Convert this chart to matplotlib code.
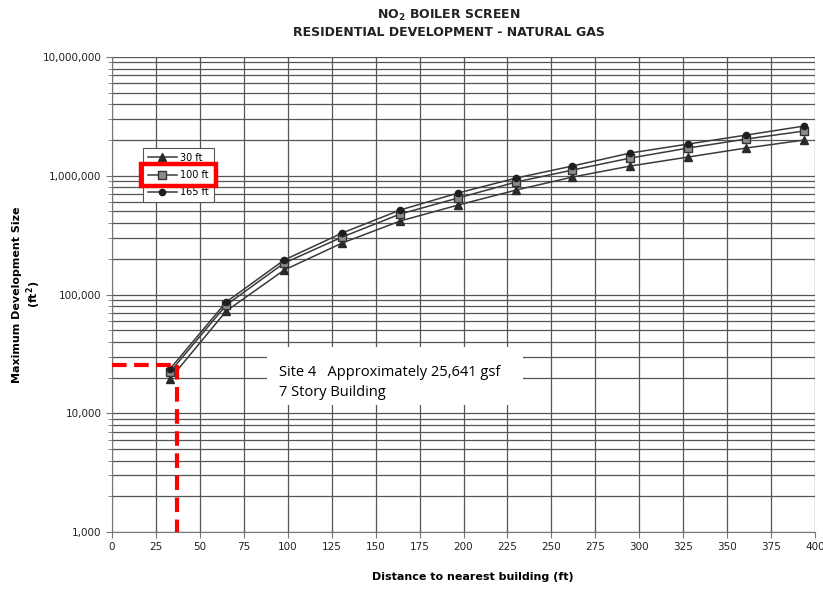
import matplotlib.pyplot as plt
import matplotlib.ticker as mticker
from matplotlib.patches import Rectangle
import numpy as np

#----------data----------
distance = [33, 65, 98, 131, 164, 197, 230, 262, 295, 328, 361, 394]
size_30ft = [19400, 72600, 160700, 271500, 416000, 567000, 758000, 975000,
             1208000, 1439000, 1713000, 2000000]
size_100ft = [22230, 81600, 184000, 304800, 476000, 650000, 886000, 1117000,
              1410000, 1713000, 2040000, 2382000]
size_165ft = [23600, 86500, 195300, 329600, 515000, 716000, 957000, 1208000,
              1555000, 1851000, 2203000, 2624000]
site_distance = 37
site_size = 25641

#----------figure----------
fig = plt.figure(figsize=(8.23, 5.92), dpi=100)
ax = fig.add_axes([112/823, 1-532/592, 703/823, 475/592])

line_col = '#3a3a3a'
ax.plot(distance, size_30ft, color=line_col, lw=1.1, marker='^', ms=6,
        mfc='#2a2a2a', mec='#2a2a2a', label='30 ft', zorder=5)
ax.plot(distance, size_100ft, color=line_col, lw=1.1, marker='s', ms=5.5,
        mfc='#8c8c8c', mec='#333333', label='100 ft', zorder=5)
ax.plot(distance, size_165ft, color=line_col, lw=1.1, marker='o', ms=4.5,
        mfc='#1e1e1e', mec='#1e1e1e', label='165 ft', zorder=5)

# red dashed site marker
ax.plot([0, site_distance], [site_size, site_size], color='#ff0000', lw=3.0,
        ls=(0, (3.5, 1.8)), zorder=6, clip_on=False)
ax.plot([site_distance, site_distance], [site_size, 1000], color='#ff0000',
        lw=3.0, ls=(0, (3.5, 1.8)), zorder=6, clip_on=False)

ax.set_yscale('log')
ax.set_ylim(1000, 1e7)
ax.set_xlim(0, 400)
ax.set_xticks(np.arange(0, 401, 25))
ax.yaxis.set_major_formatter(mticker.FuncFormatter(lambda v, p: '{:,.0f}'.format(v)))
ax.yaxis.set_minor_locator(mticker.LogLocator(base=10, subs=np.arange(2, 10)))
ax.yaxis.set_minor_formatter(mticker.NullFormatter())
ax.grid(True, which='both', axis='y', color='#555555', lw=0.9)
ax.grid(True, which='major', axis='x', color='#555555', lw=0.9)
ax.tick_params(axis='both', which='major', labelsize=7.5, length=4, color='#777777',
               labelcolor='#222222')
ax.tick_params(axis='y', which='minor', length=3, color='#777777')
for s in ['top', 'right']:
    ax.spines[s].set_visible(False)
for s in ['left', 'bottom']:
    ax.spines[s].set_color('#777777')

ax.set_xlabel('Distance to nearest building (ft)', fontsize=8, fontweight='bold')
ax.xaxis.set_label_coords(0.513, -0.085)
ax.set_ylabel('Maximum Development Size\n(ft$^\\mathbf{2}$)', fontsize=8,
              fontweight='bold')
ax.yaxis.set_label_coords(-0.098, 0.5)
fig.text(0.545, 1-15/592, 'NO$_\\mathbf{2}$ BOILER SCREEN', ha='center', va='center',
         fontsize=9, fontweight='bold', color='#222222')
fig.text(0.545, 1-33/592, 'RESIDENTIAL DEVELOPMENT - NATURAL GAS', ha='center',
         va='center', fontsize=9, fontweight='bold', color='#222222')

leg = ax.legend(loc='upper left', bbox_to_anchor=(143/823, 1-148/592),
                bbox_transform=fig.transFigure, fontsize=7, frameon=True,
                fancybox=False, edgecolor='#555555', borderpad=0.5,
                labelspacing=0.75, handlelength=3, handletextpad=0.3,
                borderaxespad=0, framealpha=1)
leg.get_frame().set_linewidth(0.8)

# red highlight box around the 100 ft entry
fig.patches.append(Rectangle((141/823, 1-186/592), 75/823, 22/592,
                             transform=fig.transFigure, fill=False,
                             edgecolor='#ff0000', lw=3.2, zorder=10))

# annotation box
fig.patches.append(Rectangle((267/823, 1-405/592), 256/823, 58/592,
                             transform=fig.transFigure, facecolor='white',
                             edgecolor='none', zorder=8))
fig.text(279/823, 1-372/592, 'Site 4   Approximately 25,641 gsf', ha='left',
         va='center', fontsize=10.5, family='Open Sans', zorder=9)
fig.text(279/823, 1-392/592, '7 Story Building', ha='left',
         va='center', fontsize=10.5, family='Open Sans', zorder=9)

fig.savefig('out.png', dpi=100)
